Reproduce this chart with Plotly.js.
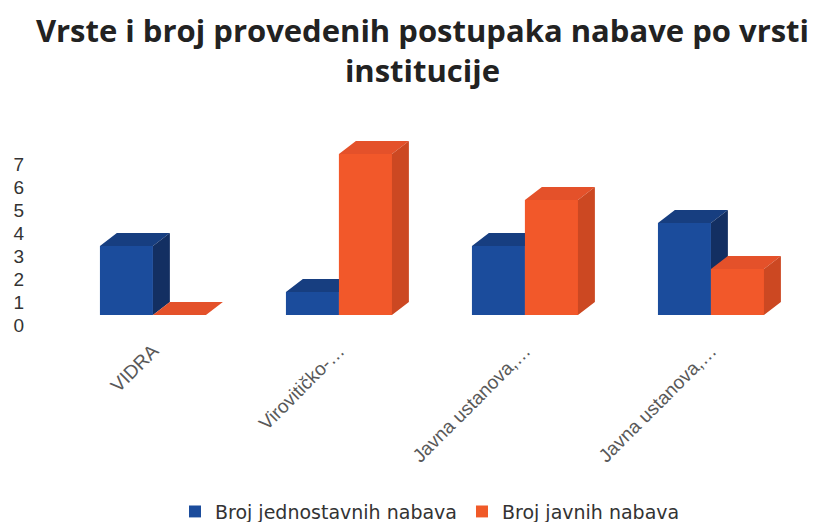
<!DOCTYPE html>
<html>
<head>
<meta charset="utf-8">
<script src="https://cdn.plot.ly/plotly-3.0.1.min.js"></script>
<style>html,body{margin:0;padding:0;background:#fff;}#chart{width:830px;height:522px;}</style>
</head>
<body>
<div id="chart"></div>
<script>
// ---- data ----
var categories = ["VIDRA", "Virovitičko-…", "Javna ustanova,…", "Javna ustanova,…"];
var seriesNames = ["Broj jednostavnih nabava", "Broj javnih nabava"];
var jednostavne = [3, 1, 3, 4];
var javne = [0, 7, 5, 2];
var yTicks = [0, 1, 2, 3, 4, 5, 6, 7];

// ---- style ----
var W = 0.285;      // bar width (x units)
var DX = 0.091;     // depth offset x (x units)
var DY = 0.565;     // depth offset y (y units)
var TICK_SHIFT = 0.435; // y tick labels sit slightly below bar base (3D back wall)
var blue = {front: "#1b4c9c", top: "#173e80", side: "#132f62"};
var orange = {front: "#f2582a", top: "#e4512a", side: "#cc4822"};

var xs = categories.map(function (_, i) { return i; });

function topFaces(vals, off) {
  var X = [], Y = [];
  vals.forEach(function (v, i) {
    var l = i + off, r = l + W;
    X.push(l, r, r + DX, l + DX, l, null);
    Y.push(v, v, v + DY, v + DY, v, null);
  });
  return {x: X, y: Y};
}
function sideFaces(vals, off) {
  var X = [], Y = [];
  vals.forEach(function (v, i) {
    var r = i + off + W;
    X.push(r, r + DX, r + DX, r, r, null);
    Y.push(0, DY, v + DY, v, 0, null);
  });
  return {x: X, y: Y};
}
function frontFaces(vals, off) {
  var X = [], Y = [];
  vals.forEach(function (v, i) {
    var l = i + off, r = l + W;
    X.push(l, r, r, l, l, null);
    Y.push(0, 0, v, v, 0, null);
  });
  return {x: X, y: Y};
}
function poly(d, color) {
  return {type: "scatter", mode: "lines", x: d.x, y: d.y, fill: "toself",
    fillcolor: color, line: {width: 0, color: color}, hoverinfo: "skip",
    showlegend: false, connectgaps: false};
}

var traces = [
  {type: "bar", name: seriesNames[0], x: xs, y: jednostavne, width: W, offset: -W,
   marker: {color: blue.front}, hoverinfo: "y"},
  {type: "bar", name: seriesNames[1], x: xs, y: javne, width: W, offset: 0,
   marker: {color: "#f05a28"}, hoverinfo: "y"},
  poly(topFaces(jednostavne, -W), blue.top),
  poly(sideFaces(jednostavne, -W), blue.side),
  poly(frontFaces(javne, 0), orange.front),
  poly(topFaces(javne, 0), orange.top),
  poly(sideFaces(javne, 0), orange.side)
];

var layout = {
  width: 830, height: 522,
  paper_bgcolor: "#fff", plot_bgcolor: "#fff",
  margin: {l: 30, r: 0, t: 120, b: 187},
  barmode: "overlay",
  title: {
    text: "<b>Vrste i broj provedenih postupaka nabave po vrsti<br>institucije</b>",
    font: {family: "Open Sans, sans-serif", size: 31, color: "#222"},
    x: 0.509, xanchor: "center", y: 0.92, yanchor: "top", yref: "container"
  },
  xaxis: {
    range: [-0.661, 3.640], tickvals: xs, ticktext: categories, tickangle: -45,
    showgrid: false, zeroline: false, showline: false, ticks: "",
    tickfont: {family: "Liberation Sans, Arial, sans-serif", size: 19, color: "#595959"},
    fixedrange: true
  },
  yaxis: {
    range: [-0.870, 8.478],
    tickvals: yTicks.map(function (t) { return t - TICK_SHIFT; }),
    ticktext: yTicks.map(String),
    showgrid: false, zeroline: false, showline: false, ticks: "",
    ticklabelstandoff: 5,
    tickfont: {family: "Liberation Sans, Arial, sans-serif", size: 19, color: "#333"},
    fixedrange: true
  },
  legend: {
    orientation: "h", x: 0.5, xanchor: "center", yref: "container", y: 0.02, yanchor: "middle",
    font: {family: "DejaVu Sans, sans-serif", size: 19, color: "#333"},
    traceorder: "normal"
  },
  showlegend: true
};

Plotly.newPlot("chart", traces, layout, {displayModeBar: false, staticPlot: true});
</script>
</body>
</html>
